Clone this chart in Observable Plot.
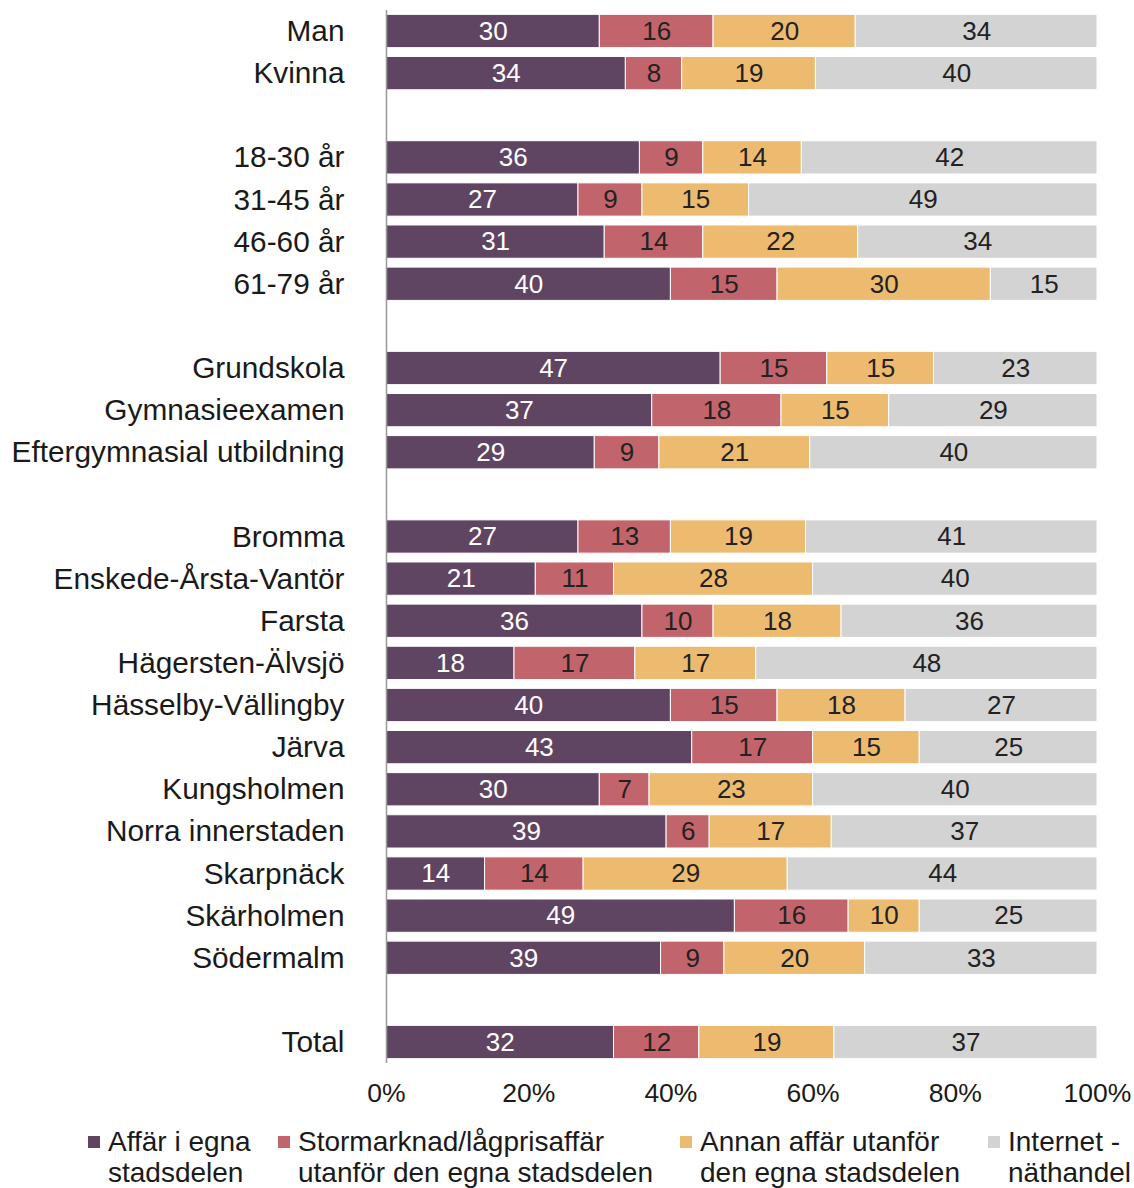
<!DOCTYPE html>
<html>
<head>
<meta charset="utf-8">
<script src="https://cdn.jsdelivr.net/npm/d3@7"></script>
<script src="https://cdn.jsdelivr.net/npm/@observablehq/plot@0.6"></script>
<style>
  html, body { margin: 0; padding: 0; background: #fff; }
  body { width: 1134px; height: 1188px; overflow: hidden; font-family: "Liberation Sans", Arial, sans-serif; color: #1a1a1a; }
  #chart svg { display: block; }
  #legend { position: relative; height: 76px; }
  .item { position: absolute; top: 14px; font-size: 28px; line-height: 31px; }
  .sw { position: absolute; width: 12px; height: 12px; top: 10px; }
  .lab { position: absolute; white-space: nowrap; }
</style>
</head>
<body>
<div id="chart"></div>
<div id="legend"></div>
<script>
const categories = [
  "Man", "Kvinna", " ",
  "18-30 år", "31-45 år", "46-60 år", "61-79 år", "  ",
  "Grundskola", "Gymnasieexamen", "Eftergymnasial utbildning", "   ",
  "Bromma", "Enskede-Årsta-Vantör", "Farsta", "Hägersten-Älvsjö", "Hässelby-Vällingby",
  "Järva", "Kungsholmen", "Norra innerstaden", "Skarpnäck", "Skärholmen", "Södermalm", "    ",
  "Total"
];
const seriesNames = [
  "Affär i egna stadsdelen",
  "Stormarknad/lågprisaffär utanför den egna stadsdelen",
  "Annan affär utanför den egna stadsdelen",
  "Internet - näthandel"
];
const seriesLegend = [
  ["Affär i egna", "stadsdelen"],
  ["Stormarknad/lågprisaffär", "utanför den egna stadsdelen"],
  ["Annan affär utanför", "den egna stadsdelen"],
  ["Internet -", "näthandel"]
];
const colors = ["#604563", "#C2646B", "#EDBB70", "#D3D3D3"];
// null = blank spacer row
const egna        = [30, 34, null, 36, 27, 31, 40, null, 47, 37, 29, null, 27, 21, 36, 18, 40, 43, 30, 39, 14, 49, 39, null, 32];
const stormarknad = [16,  8, null,  9,  9, 14, 15, null, 15, 18,  9, null, 13, 11, 10, 17, 15, 17,  7,  6, 14, 16,  9, null, 12];
const annan       = [20, 19, null, 14, 15, 22, 30, null, 15, 15, 21, null, 19, 28, 18, 17, 18, 15, 23, 17, 29, 10, 20, null, 19];
const internet    = [34, 40, null, 42, 49, 34, 15, null, 23, 29, 40, null, 41, 40, 36, 48, 27, 25, 40, 37, 44, 25, 33, null, 37];
const xTicks = [0, 0.2, 0.4, 0.6, 0.8, 1];

const seriesValues = [egna, stormarknad, annan, internet];
const data = [];
categories.forEach((c, i) => {
  seriesValues.forEach((vals, s) => {
    if (vals[i] != null) data.push({row: c, series: seriesNames[s], value: vals[i]});
  });
});

const stackOpts = {x: "value", y: "row", z: "series", offset: "normalize", order: seriesNames};

const plot = Plot.plot({
  width: 1134,
  height: 1112,
  marginLeft: 386,
  marginRight: 37,
  marginTop: 10,
  marginBottom: 49,
  style: {fontFamily: "'Liberation Sans', Arial, sans-serif", fontSize: "26.5px", color: "#1a1a1a", background: "#fff"},
  x: {domain: [0, 1], ticks: xTicks, tickFormat: d => Math.round(d * 100) + "%", tickSize: 0, tickPadding: 20, label: null},
  y: {domain: categories, range: [5.5, 1067.5], padding: 0.21, round: false, label: null},
  color: {domain: seriesNames, range: colors},
  marks: [
    Plot.barX(data, Plot.stackX({...stackOpts, fill: "series", stroke: "white", strokeWidth: 1})),
    Plot.text(data, Plot.stackX({...stackOpts, text: d => d.series === seriesNames[0] ? d.value : "", fill: "white", fontSize: 26})),
    Plot.text(data, Plot.stackX({...stackOpts, text: d => d.series !== seriesNames[0] ? d.value : "", fill: "#222", fontSize: 26})),
    Plot.ruleX([0], {stroke: "#999", strokeWidth: 1.5}),
    Plot.axisY({tickSize: 0, tickPadding: 42, fontSize: 29.8, label: null})
  ]
});
document.getElementById("chart").appendChild(plot);

const legend = document.getElementById("legend");
const lx = [88, 278, 680, 988];
seriesLegend.forEach((lines, i) => {
  const item = document.createElement("div");
  item.className = "item";
  item.style.left = lx[i] + "px";
  const sw = document.createElement("div");
  sw.className = "sw";
  sw.style.background = colors[i];
  item.appendChild(sw);
  const lab = document.createElement("div");
  lab.className = "lab";
  lab.style.left = "20px";
  lab.innerHTML = lines.join("<br>");
  item.appendChild(lab);
  legend.appendChild(item);
});
</script>
</body>
</html>
